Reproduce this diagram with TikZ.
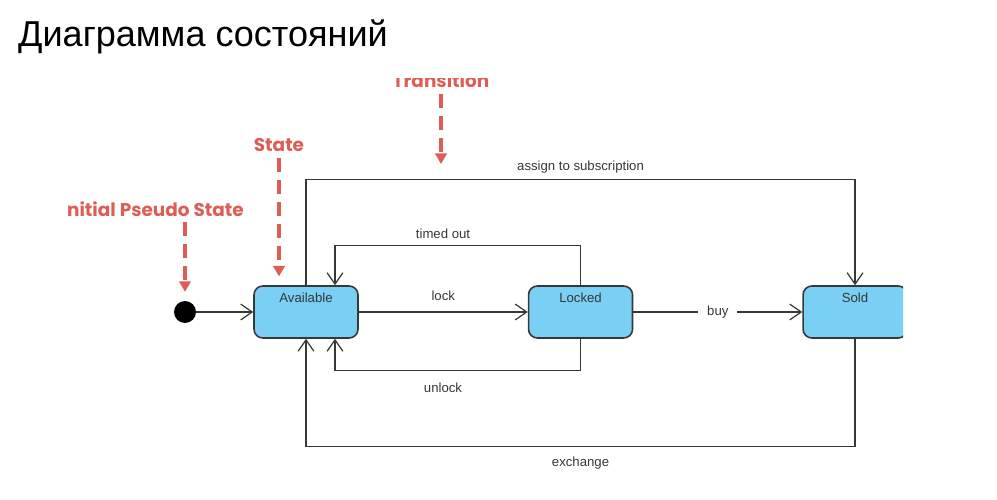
\documentclass[tikz,border=0pt]{standalone}
\usepackage{fontspec}
\setmainfont{Liberation Sans}
\newfontfamily\notefont{Poppins}
\usetikzlibrary{arrows.meta, positioning}

\definecolor{statefill}{RGB}{122,207,245}
\definecolor{edgegray}{RGB}{55,55,55}
\definecolor{notered}{RGB}{221,94,86}

\begin{document}
\begin{tikzpicture}[x=0.02cm, y=-0.02cm, node distance=3.4cm,
    >={Straight Barb[length=6.5pt, width=9pt]},
    statebox/.style={draw=edgegray, line width=0.9pt, fill=statefill,
      rounded corners=5pt, minimum width=2.08cm, minimum height=1.04cm},
    initdot/.style={circle, fill=black, minimum size=0.44cm, inner sep=0pt},
    trans/.style={->, draw=edgegray, line width=0.7pt},
    lbl/.style={font=\fontsize{7.5}{9}\selectfont, text=edgegray},
    note/.style={font=\notefont\bfseries\fontsize{10.5}{12}\selectfont, text=notered},
    pointer/.style={draw=notered, line width=2.1pt, dash pattern=on 8pt off 4.5pt,
      -{Triangle[length=6pt, width=6.5pt]}}]

  \useasboundingbox (0,0) rectangle (997,500);
  \node[anchor=base west, font=\fontsize{20.5}{24}\selectfont] (title) at (12,47)
    {Диаграмма состояний};

  \begin{scope}
    \clip (66,79) rectangle (903,500);

    % states
    \node[initdot] (init) at (185,312) {};
    \node[statebox, label={[lbl, anchor=north, yshift=-1pt]north:Available}] (avail) at (306,312) {};
    \node[statebox, right=3.38cm of avail, label={[lbl, anchor=north, yshift=-1pt]north:Locked}] (locked) {};
    \node[statebox, right=3.38cm of locked, label={[lbl, anchor=north, yshift=-1pt]north:Sold}] (sold) {};

    % transitions
    \draw[trans] (init) -- (avail);
    \draw[trans] (avail) -- node[lbl, above=3pt] {lock} (locked);
    \draw[trans] (locked) -- node[lbl, fill=white, inner xsep=5pt] {buy} (sold);
    \draw[trans] (locked.north) -- ++(0,-40)
      -| node[lbl, pos=0.28, above] {timed out} ([xshift=0.58cm]avail.north);
    \draw[trans] (locked.south) -- ++(0,32)
      -| node[lbl, pos=0.28, below=3pt] {unlock} ([xshift=0.58cm]avail.south);
    \draw[trans] (avail.north) -- ++(0,-106)
      -| node[lbl, pos=0.25, above] {assign to subscription} (sold.north);
    \draw[trans] (sold.south) -- ++(0,108)
      -| node[lbl, pos=0.25, below=2pt] {exchange} (avail.south);

    % notes
    \node[note, anchor=base] (tnote) at (441,88) {Transition};
    \node[note, anchor=base] (snote) at (279,152) {State};
    \node[note, anchor=base east] (inote) at (250,216) {Initial Pseudo State};
    \coordinate (tend) at (440,164);

    \draw[pointer] (tnote.south) -- (tnote.south |- tend);
    \draw[pointer, shorten >=5pt] (snote.south) -- (snote.south |- avail.north);
    \draw[pointer, shorten >=5pt] (init.north |- inote.south) -- (init);
  \end{scope}
\end{tikzpicture}
\end{document}
